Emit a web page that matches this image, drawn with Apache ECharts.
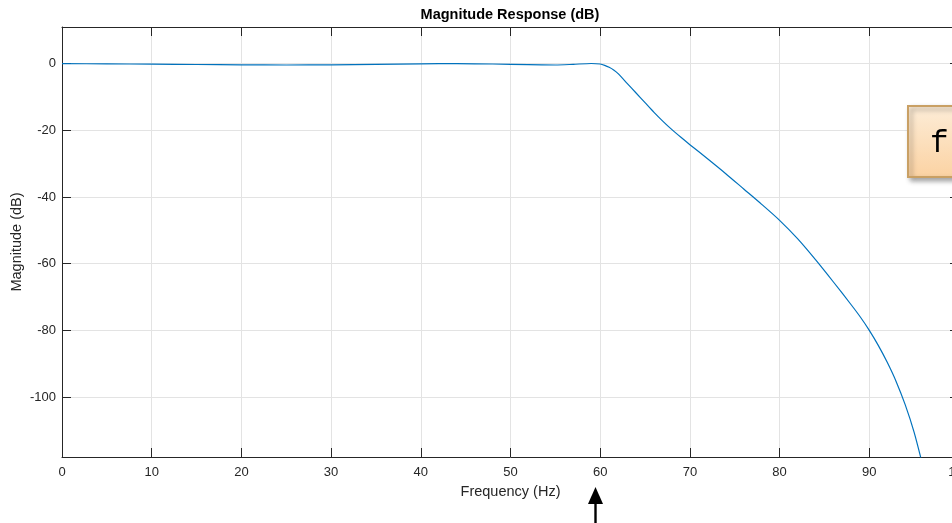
<!DOCTYPE html>
<html>
<head>
<meta charset="utf-8">
<script src="https://cdn.jsdelivr.net/npm/echarts@6/dist/echarts.min.js"></script>
<style>
html,body{margin:0;padding:0;background:#fff;overflow:hidden;width:952px;height:523px;}
#c{width:960px;height:523px;}
</style>
</head>
<body>
<div id="c"></div>
<script>
// Data
const freqHz = [0,5,10,15,20,25,30,35,40,44,48,52,55,57,59,60,60.5,61,61.5,62,63,64,65,66,67,68,69,70,72,74,76,78,80,82,84,86,88,89,90,91,92,93,94,95,96];
const magDb  = [0,-0.05,-0.15,-0.25,-0.35,-0.4,-0.35,-0.2,-0.05,0,-0.1,-0.3,-0.4,-0.2,0.05,-0.1,-0.5,-1.1,-1.9,-3.0,-5.9,-8.8,-11.7,-14.6,-17.3,-19.8,-22.1,-24.3,-28.6,-33.0,-37.6,-42.2,-47.0,-52.5,-58.8,-65.5,-72.4,-76.0,-80.0,-84.5,-89.6,-95.4,-102.3,-110.6,-121];
const yTicks = [-100,-80,-60,-40,-20,0];
const xTicks = [0,10,20,30,40,50,60,70,80,90,100];
const titleText = 'Magnitude Response (dB)';
const xName = 'Frequency (Hz)';
const yName = 'Magnitude (dB)';
const noteText = 'f';

const points = freqHz.map((f,i)=>[f, magDb[i]]);
const axisColor = '#262626';
const gridColor = '#e3e3e3';
const fontFam = 'Liberation Sans, Arial, Helvetica, sans-serif';

const chart = echarts.init(document.getElementById('c'));
chart.setOption({
  animation:false,
  backgroundColor:'#fff',
  grid:{left:62, top:27, right:1, bottom:66, containLabel:false, outerBoundsMode:'none'},
  xAxis:[{
    type:'value', position:'bottom', min:0, max:100, interval:10,
    name:xName, nameLocation:'middle', nameGap:27,
    nameTextStyle:{fontFamily:fontFam, fontSize:14.5, color:axisColor},
    axisLine:{show:true, onZero:false, lineStyle:{color:axisColor, width:1}},
    axisTick:{show:true, inside:true, length:9, lineStyle:{color:axisColor}},
    axisLabel:{show:true, margin:9, fontFamily:fontFam, fontSize:13, color:axisColor,
      formatter:function(v){return xTicks.indexOf(v)>=0 ? String(v) : '';}},
    splitLine:{show:true, lineStyle:{color:gridColor, width:1}}
  },{
    type:'value', position:'top', min:0, max:100, interval:10,
    axisLine:{show:true, onZero:false, lineStyle:{color:axisColor, width:1}},
    axisTick:{show:true, inside:true, length:9, lineStyle:{color:axisColor}},
    axisLabel:{show:false}, splitLine:{show:false}
  }],
  yAxis:[{
    type:'value', position:'left', min:-118, max:11,
    name:yName, nameLocation:'middle', nameGap:38, nameRotate:90, nameMoveOverlap:false,
    nameTextStyle:{fontFamily:fontFam, fontSize:14.5, color:axisColor},
    axisLine:{show:true, onZero:false, lineStyle:{color:axisColor, width:1}},
    axisTick:{show:true, inside:true, length:9, customValues:yTicks, lineStyle:{color:axisColor}},
    axisLabel:{show:true, margin:6, customValues:yTicks, fontFamily:fontFam, fontSize:13, color:axisColor},
    splitLine:{show:true, lineStyle:{color:gridColor, width:1}}
  },{
    type:'value', position:'right', min:-118, max:11,
    axisLine:{show:true, onZero:false, lineStyle:{color:axisColor, width:1}},
    axisTick:{show:true, inside:true, length:9, customValues:yTicks, lineStyle:{color:axisColor}},
    axisLabel:{show:false}, splitLine:{show:false}
  }],
  series:[{
    type:'line', data:points, xAxisIndex:0, yAxisIndex:0,
    showSymbol:false, smooth:0.25, clip:true,
    lineStyle:{color:'#0072BD', width:1.2}, itemStyle:{color:'#0072BD'}
  }],
  graphic:[
    {type:'text', x:510, y:15, z:50,
      style:{text:titleText, fontFamily:fontFam, fontSize:14.5, fontWeight:'bold', fill:'#000', textAlign:'center', verticalAlign:'middle'}},
    {type:'rect', shape:{x:908, y:106, width:70, height:71}, z:100,
      style:{
        fill:new echarts.graphic.LinearGradient(0,0,0,1,[{offset:0,color:'#fdedd8'},{offset:1,color:'#fbd2a2'}]),
        stroke:'#c9a064', lineWidth:2,
        shadowColor:'rgba(0,0,0,0.35)', shadowBlur:5, shadowOffsetX:3, shadowOffsetY:3
      }},
    {type:'text', x:930, y:144, z:101,
      style:{text:noteText, fontFamily:'Liberation Mono, Courier New, monospace', fontSize:31, fill:'#000', verticalAlign:'middle', textAlign:'left'}},
    {type:'polygon', shape:{points:[[595.5,487],[588,504],[603,504]]}, style:{fill:'#000'}},
    {type:'rect', shape:{x:594.3, y:503, width:2.4, height:20}, style:{fill:'#000'}}
  ]
});
</script>
</body>
</html>
